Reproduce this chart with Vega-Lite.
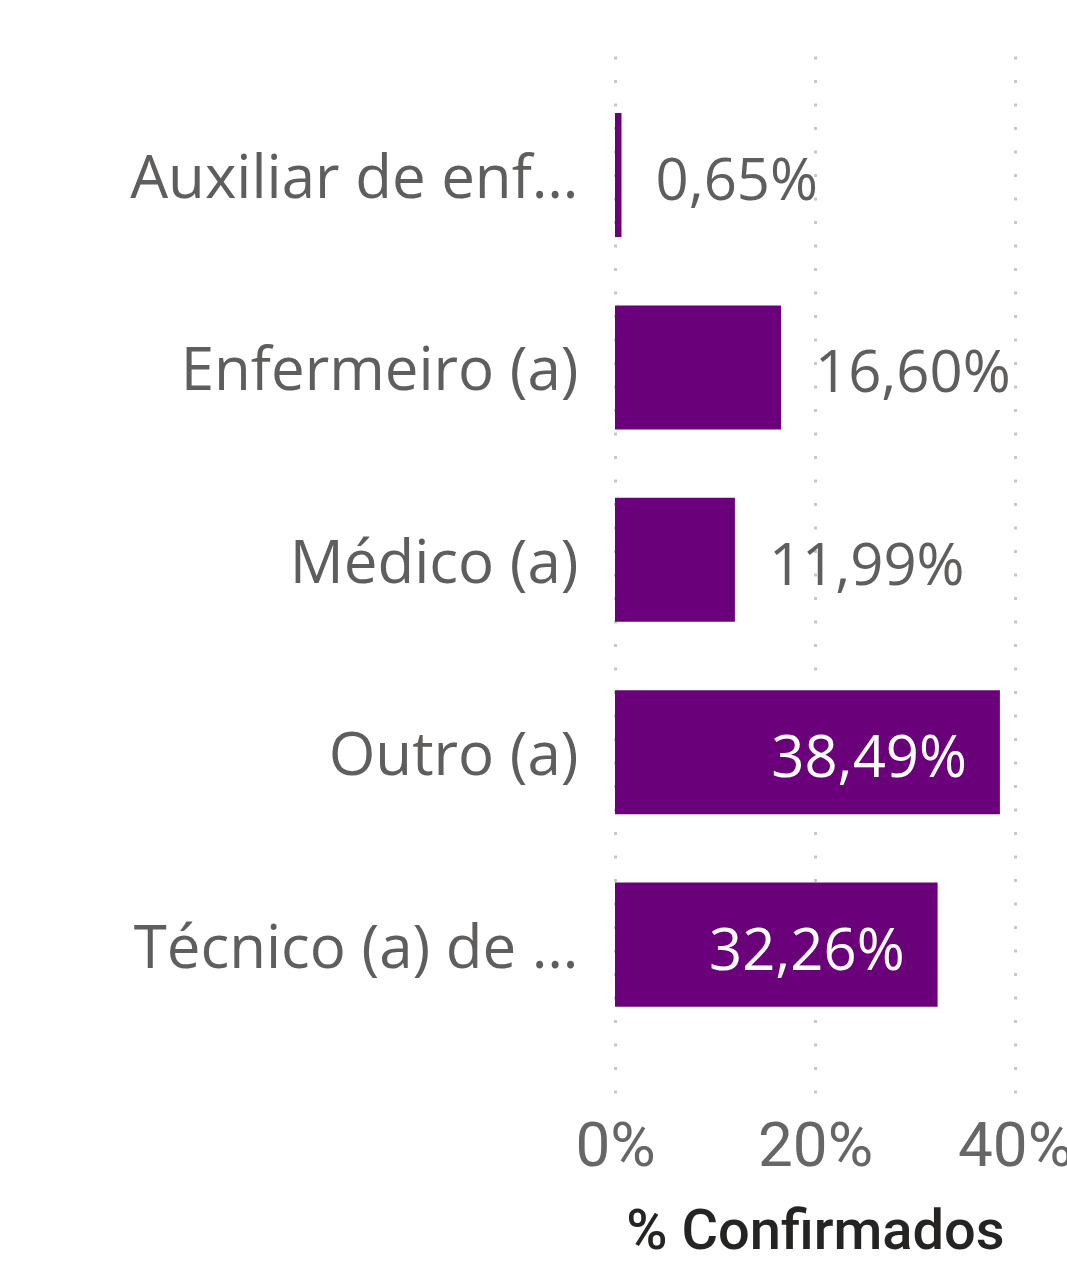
{
  "$schema": "https://vega.github.io/schema/vega-lite/v6.json",
  "width": 400,
  "height": 1041,
  "autosize": {"type": "none"},
  "padding": {"left": 615, "top": 52, "right": 52, "bottom": 187},
  "background": "white",
  "config": {
    "view": {"stroke": null},
    "font": "Open Sans",
    "locale": {"number": {"decimal": ",", "thousands": ".", "grouping": [3], "currency": ["R$", ""]}}
  },
  "data": {
    "values": [
      {"categoria": "Auxiliar de enfermagem", "pct": 0.0065},
      {"categoria": "Enfermeiro (a)", "pct": 0.166},
      {"categoria": "Médico (a)", "pct": 0.1199},
      {"categoria": "Outro (a)", "pct": 0.3849},
      {"categoria": "Técnico (a) de enfermagem", "pct": 0.3226}
    ]
  },
  "encoding": {
    "y": {
      "field": "categoria",
      "type": "nominal",
      "sort": null,
      "scale": {"paddingInner": 0.355, "paddingOuter": 0.383, "align": 0.414},
      "axis": {
        "title": null,
        "domain": false,
        "ticks": false,
        "grid": false,
        "labelFont": "Open Sans",
        "labelFontSize": 60,
        "labelColor": "#605E5C",
        "labelPadding": 37,
        "labelOffset": 5,
        "labelLimit": 458
      }
    },
    "x": {
      "field": "pct",
      "type": "quantitative",
      "scale": {"domain": [0, 0.4], "nice": false},
      "axis": {
        "values": [0, 0.2, 0.4],
        "format": ".0%",
        "grid": true,
        "gridDash": [3, 20.5],
        "gridColor": "#C8C8C8",
        "gridWidth": 3,
        "domain": false,
        "ticks": false,
        "labelFlush": false,
        "labelOverlap": false,
        "labelFont": "Roboto",
        "labelFontSize": 62,
        "labelColor": "#666666",
        "labelPadding": 23,
        "title": "% Confirmados",
        "titleFont": "Roboto",
        "titleFontSize": 56,
        "titleFontWeight": 500,
        "titleColor": "#252423",
        "titlePadding": 27
      }
    }
  },
  "layer": [
    {"mark": {"type": "bar", "color": "#6B007B"}},
    {
      "transform": [{"filter": "datum.pct < 0.3"}],
      "mark": {"type": "text", "align": "left", "baseline": "middle", "dx": 34, "dy": 8, "fontSize": 58, "color": "#605E5C", "font": "Open Sans"},
      "encoding": {"text": {"field": "pct", "type": "quantitative", "format": ".2%"}}
    },
    {
      "transform": [{"filter": "datum.pct >= 0.3"}],
      "mark": {"type": "text", "align": "right", "baseline": "middle", "dx": -33, "dy": 8, "fontSize": 58, "color": "#FFFFFF", "font": "Open Sans"},
      "encoding": {"text": {"field": "pct", "type": "quantitative", "format": ".2%"}}
    }
  ]
}
